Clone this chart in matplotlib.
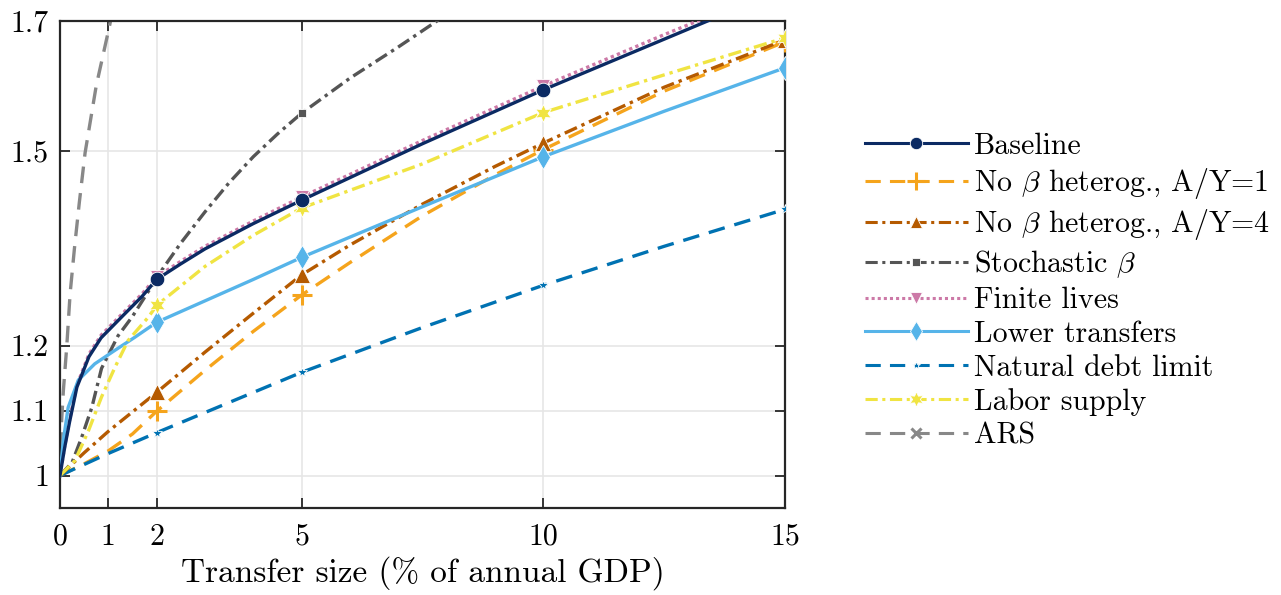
import matplotlib
matplotlib.use("Agg")
from matplotlib import pyplot as plt
from matplotlib.lines import Line2D

plt.rcParams['font.family'] = 'cmr10'
plt.rcParams['mathtext.fontset'] = 'cm'
plt.rcParams['axes.unicode_minus'] = False

# Transfer size (% of annual GDP) and relative outcome for each model variant
baseline_x = [0, 0.1, 0.2, 0.35, 0.6, 0.85, 1.3, 1.7, 2, 2.5, 3, 4, 5, 7.5, 10, 12.5, 15]
baseline_y = [1, 1.044, 1.083, 1.136, 1.183, 1.212, 1.246, 1.276, 1.302, 1.326, 1.349, 1.388, 1.424, 1.511, 1.594, 1.672, 1.750]

ay1_x = [0, 0.5, 1, 1.5, 2, 3, 4, 5, 6, 7.5, 9, 10, 12.5, 15]
ay1_y = [1, 1.018, 1.038, 1.064, 1.099, 1.162, 1.222, 1.278, 1.328, 1.400, 1.463, 1.502, 1.592, 1.668]

ay4_x = [0, 0.5, 1, 1.5, 2, 3, 4, 5, 6, 7.5, 9, 10, 12.5, 15]
ay4_y = [1, 1.035, 1.068, 1.098, 1.128, 1.190, 1.250, 1.309, 1.355, 1.418, 1.476, 1.512, 1.598, 1.671]

stoch_x = [0, 0.25, 0.45, 0.66, 0.86, 1.2, 1.5, 1.9, 2, 2.5, 3, 3.5, 4, 4.5, 5, 6, 7, 8]
stoch_y = [1, 1.02, 1.059, 1.105, 1.165, 1.215, 1.245, 1.292, 1.305, 1.358, 1.406, 1.451, 1.491, 1.526, 1.558, 1.612, 1.660, 1.710]

finite_x = [0, 0.1, 0.2, 0.35, 0.6, 0.85, 1.3, 1.7, 2, 2.5, 3, 4, 5, 7.5, 10, 12.5, 15]
finite_y = [1, 1.046, 1.086, 1.139, 1.187, 1.216, 1.250, 1.280, 1.306, 1.330, 1.353, 1.392, 1.429, 1.516, 1.600, 1.679, 1.755]

lower_x = [0, 0.07, 0.17, 0.38, 0.72, 1.14, 1.55, 2, 3, 4, 5, 7.5, 10, 12.5, 15]
lower_y = [1, 1.054, 1.105, 1.147, 1.172, 1.193, 1.213, 1.236, 1.269, 1.302, 1.336, 1.414, 1.491, 1.561, 1.628]

ndl_x = [0, 1, 2, 3, 4, 5, 7.5, 10, 12.5, 15]
ndl_y = [1, 1.034, 1.066, 1.097, 1.128, 1.159, 1.228, 1.293, 1.353, 1.410]

labor_x = [0, 0.31, 0.59, 0.86, 1.14, 1.41, 1.83, 2, 3, 4, 5, 7.5, 10, 12.5, 15]
labor_y = [1, 1.023, 1.069, 1.121, 1.167, 1.208, 1.244, 1.262, 1.322, 1.370, 1.412, 1.480, 1.559, 1.617, 1.674]

ars_x = [0, 0.035, 0.07, 0.14, 0.21, 0.3, 0.4, 0.52, 0.75, 1.03, 1.1]
ars_y = [1, 1.085, 1.13, 1.198, 1.28, 1.35, 1.42, 1.497, 1.60, 1.694, 1.72]

marker_at = (2, 5, 10, 15)

dashed = (0, (5, 3))
dashdot = (0, (4, 1.5, 1, 1.5))
dotted = (0, (1, 1))

# label, x, y, color, linestyle, marker, markersize, zorder
series = [
    ('Baseline', baseline_x, baseline_y, '#0b2a63', '-', 'o', 10.5, 10),
    (r'No $\beta$ heterog., A/Y=1', ay1_x, ay1_y, '#f5a41c', dashed, '+', 15, 4),
    (r'No $\beta$ heterog., A/Y=4', ay4_x, ay4_y, '#b55a00', dashdot, '^', 11, 5),
    (r'Stochastic $\beta$', stoch_x, stoch_y, '#555555', dashdot, 's', 6, 3),
    ('Finite lives', finite_x, finite_y, '#cc79a7', dotted, 'v', 10, 6),
    ('Lower transfers', lower_x, lower_y, '#56b4e9', '-', 'd', 12, 7),
    ('Natural debt limit', ndl_x, ndl_y, '#0072b2', dashed, '*', 7, 4),
    ('Labor supply', labor_x, labor_y, '#f0e442', dashdot, (6, 1, 0), 13, 8),
    ('ARS', ars_x, ars_y, '#888888', dashed, 'x', 8, 2),
]

fig = plt.figure(figsize=(12.81, 5.95), dpi=100)
ax = fig.add_axes([0.0468, 0.1462, 0.566, 0.8185])

handles = []
for label, xs, ys, color, ls, mk, ms, z in series:
    idx = [i for i, v in enumerate(xs) if v in marker_at]
    mew = 2.2 if mk in ('+', 'x') else 0.6
    mec = color if mk in ('+', 'x') else 'white'
    ax.plot(xs, ys, color=color, linestyle=ls, linewidth=2.4, zorder=z)
    ax.plot([xs[i] for i in idx], [ys[i] for i in idx], linestyle='none',
            marker=mk, markersize=ms, color=color, markeredgecolor=mec,
            markeredgewidth=mew, zorder=z + 0.5)
    handles.append(Line2D([0], [0], color=color, linestyle=ls, linewidth=2.2,
                          marker=mk, markersize=ms * 0.85, markeredgecolor=mec,
                          markeredgewidth=mew, label=label))

ax.set_xlim(0, 15)
ax.set_ylim(0.95, 1.7)
ax.set_xticks([0, 1, 2, 5, 10, 15])
ax.set_xticklabels(['0', '1', '2', '5', '10', '15'])
ax.set_yticks([1, 1.1, 1.2, 1.5, 1.7])
ax.set_yticklabels(['1', '1.1', '1.2', '1.5', '1.7'])
ax.grid(True, color='#e6e6e6', linewidth=1.2)
ax.set_axisbelow(True)
ax.tick_params(direction='in', length=7, width=1.3, top=True, right=True,
               labelsize=21.5, color='#262626')
ax.tick_params(axis='x', pad=11)
ax.tick_params(axis='y', pad=8)
for s in ax.spines.values():
    s.set_linewidth(1.6)
    s.set_color('#262626')
ax.set_xlabel('Transfer size (% of annual GDP)', fontsize=24, labelpad=4)

fig.legend(handles=handles, loc='center left', bbox_to_anchor=(0.654, 0.511),
           frameon=False, fontsize=21.5, handlelength=3.45, handletextpad=0.2,
           labelspacing=0.21, numpoints=1)

fig.savefig('out.png', dpi=100)
